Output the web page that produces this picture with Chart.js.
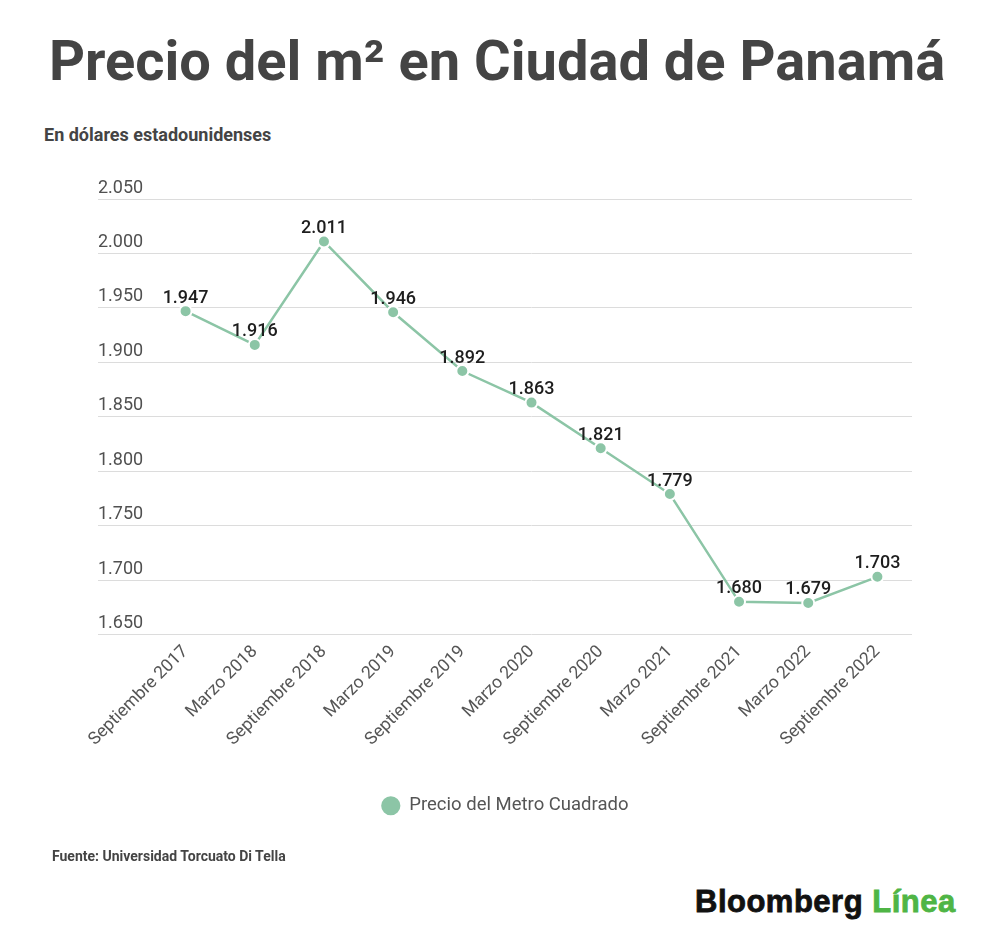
<!DOCTYPE html>
<html>
<head>
<meta charset="utf-8">
<script src="https://cdn.jsdelivr.net/npm/chart.js@4"></script>
<style>
  html, body { margin:0; padding:0; background:#fff; }
  body { width:1000px; height:951px; position:relative; overflow:hidden; font-family: Roboto, "Noto Sans", sans-serif; }
  .t { position:absolute; line-height:1; white-space:nowrap; }
  #title { left:0; width:994px; text-align:center; top:33px; font-size:56px; font-weight:700; color:#444; }
  #sub { left:44px; top:126px; font-size:18px; font-weight:700; color:#444; }
  #src { left:52px; top:849px; font-size:14px; font-weight:700; color:#444; }
  #logo { left:695px; top:886px; font-family:"Liberation Sans", Arial, sans-serif; font-size:31px; font-weight:700; color:#111; letter-spacing:0.5px; -webkit-text-stroke:0.8px currentColor; }
  #logo span { color:#4fb545; }
  #c { position:absolute; left:0; top:0; }
</style>
</head>
<body>
<div class="t" id="title">Precio del m² en Ciudad de Panamá</div>
<div class="t" id="sub">En dólares estadounidenses</div>
<canvas id="c" width="1000" height="851"></canvas>
<div class="t" id="src">Fuente: Universidad Torcuato Di Tella</div>
<div class="t" id="logo">Bloomberg <span>Línea</span></div>
<script>
const categories = ["Septiembre 2017","Marzo 2018","Septiembre 2018","Marzo 2019","Septiembre 2019","Marzo 2020","Septiembre 2020","Marzo 2021","Septiembre 2021","Marzo 2022","Septiembre 2022"];
const precio = [1947, 1916, 2011, 1946, 1892, 1863, 1821, 1779, 1680, 1679, 1703];
const seriesName = "Precio del Metro Cuadrado";
const yMin = 1650, yMax = 2050, yStep = 50;

function fmt(v) {
  v = Math.round(v);
  const th = Math.floor(v / 1000), r = v % 1000;
  return th > 0 ? th + "." + String(r).padStart(3, "0") : String(r);
}

const green = "#8cc5a6";

const dataLabels = {
  id: "dataLabels",
  afterDatasetsDraw(chart) {
    const ctx = chart.ctx;
    const meta = chart.getDatasetMeta(0);
    ctx.save();
    ctx.font = "500 18px Roboto";
    ctx.fillStyle = "#1e1e1e";
    ctx.textAlign = "center";
    ctx.textBaseline = "middle";
    meta.data.forEach((el, i) => {
      ctx.fillText(fmt(chart.data.datasets[0].data[i]), el.x, el.y - 13);
    });
    ctx.restore();
  }
};

new Chart(document.getElementById("c"), {
  type: "line",
  data: {
    labels: categories,
    datasets: [{
      label: seriesName,
      data: precio,
      borderColor: green,
      backgroundColor: green,
      borderWidth: 2.5,
      pointRadius: 6,
      pointHoverRadius: 6,
      pointBackgroundColor: green,
      pointBorderColor: "#fff",
      pointBorderWidth: 2,
      tension: 0
    }]
  },
  options: {
    responsive: false,
    animation: false,
    devicePixelRatio: 1,
    layout: { padding: { left: 98, right: 88, top: 199, bottom: 26 } },
    plugins: {
      tooltip: { enabled: false },
      legend: {
        position: "bottom",
        labels: {
          usePointStyle: true,
          pointStyle: "circle",
          boxHeight: 15,
          padding: 10,
          color: "#555",
          font: { family: "Roboto", size: 18.5 }
        }
      }
    },
    scales: {
      x: {
        offset: true,
        grid: { display: false, drawTicks: false },
        border: { display: false },
        ticks: {
          minRotation: 45, maxRotation: 45,
          color: "#555",
          padding: 7,
          font: { family: "Roboto", size: 17.5 }
        },
        afterFit(s) { s.height = 152; }
      },
      y: {
        min: yMin, max: yMax,
        grid: { color: "#dcdcdc", lineWidth: 1, tickLength: 53, drawTicks: true },
        border: { display: false },
        ticks: {
          stepSize: yStep,
          crossAlign: "far",
          labelOffset: -11,
          padding: 0,
          color: "#505050",
          font: { family: "Roboto", size: 18 },
          callback: (v) => fmt(v)
        },
        afterFit(s) { s.width = 53; }
      }
    }
  },
  plugins: [dataLabels]
});
</script>
</body>
</html>
